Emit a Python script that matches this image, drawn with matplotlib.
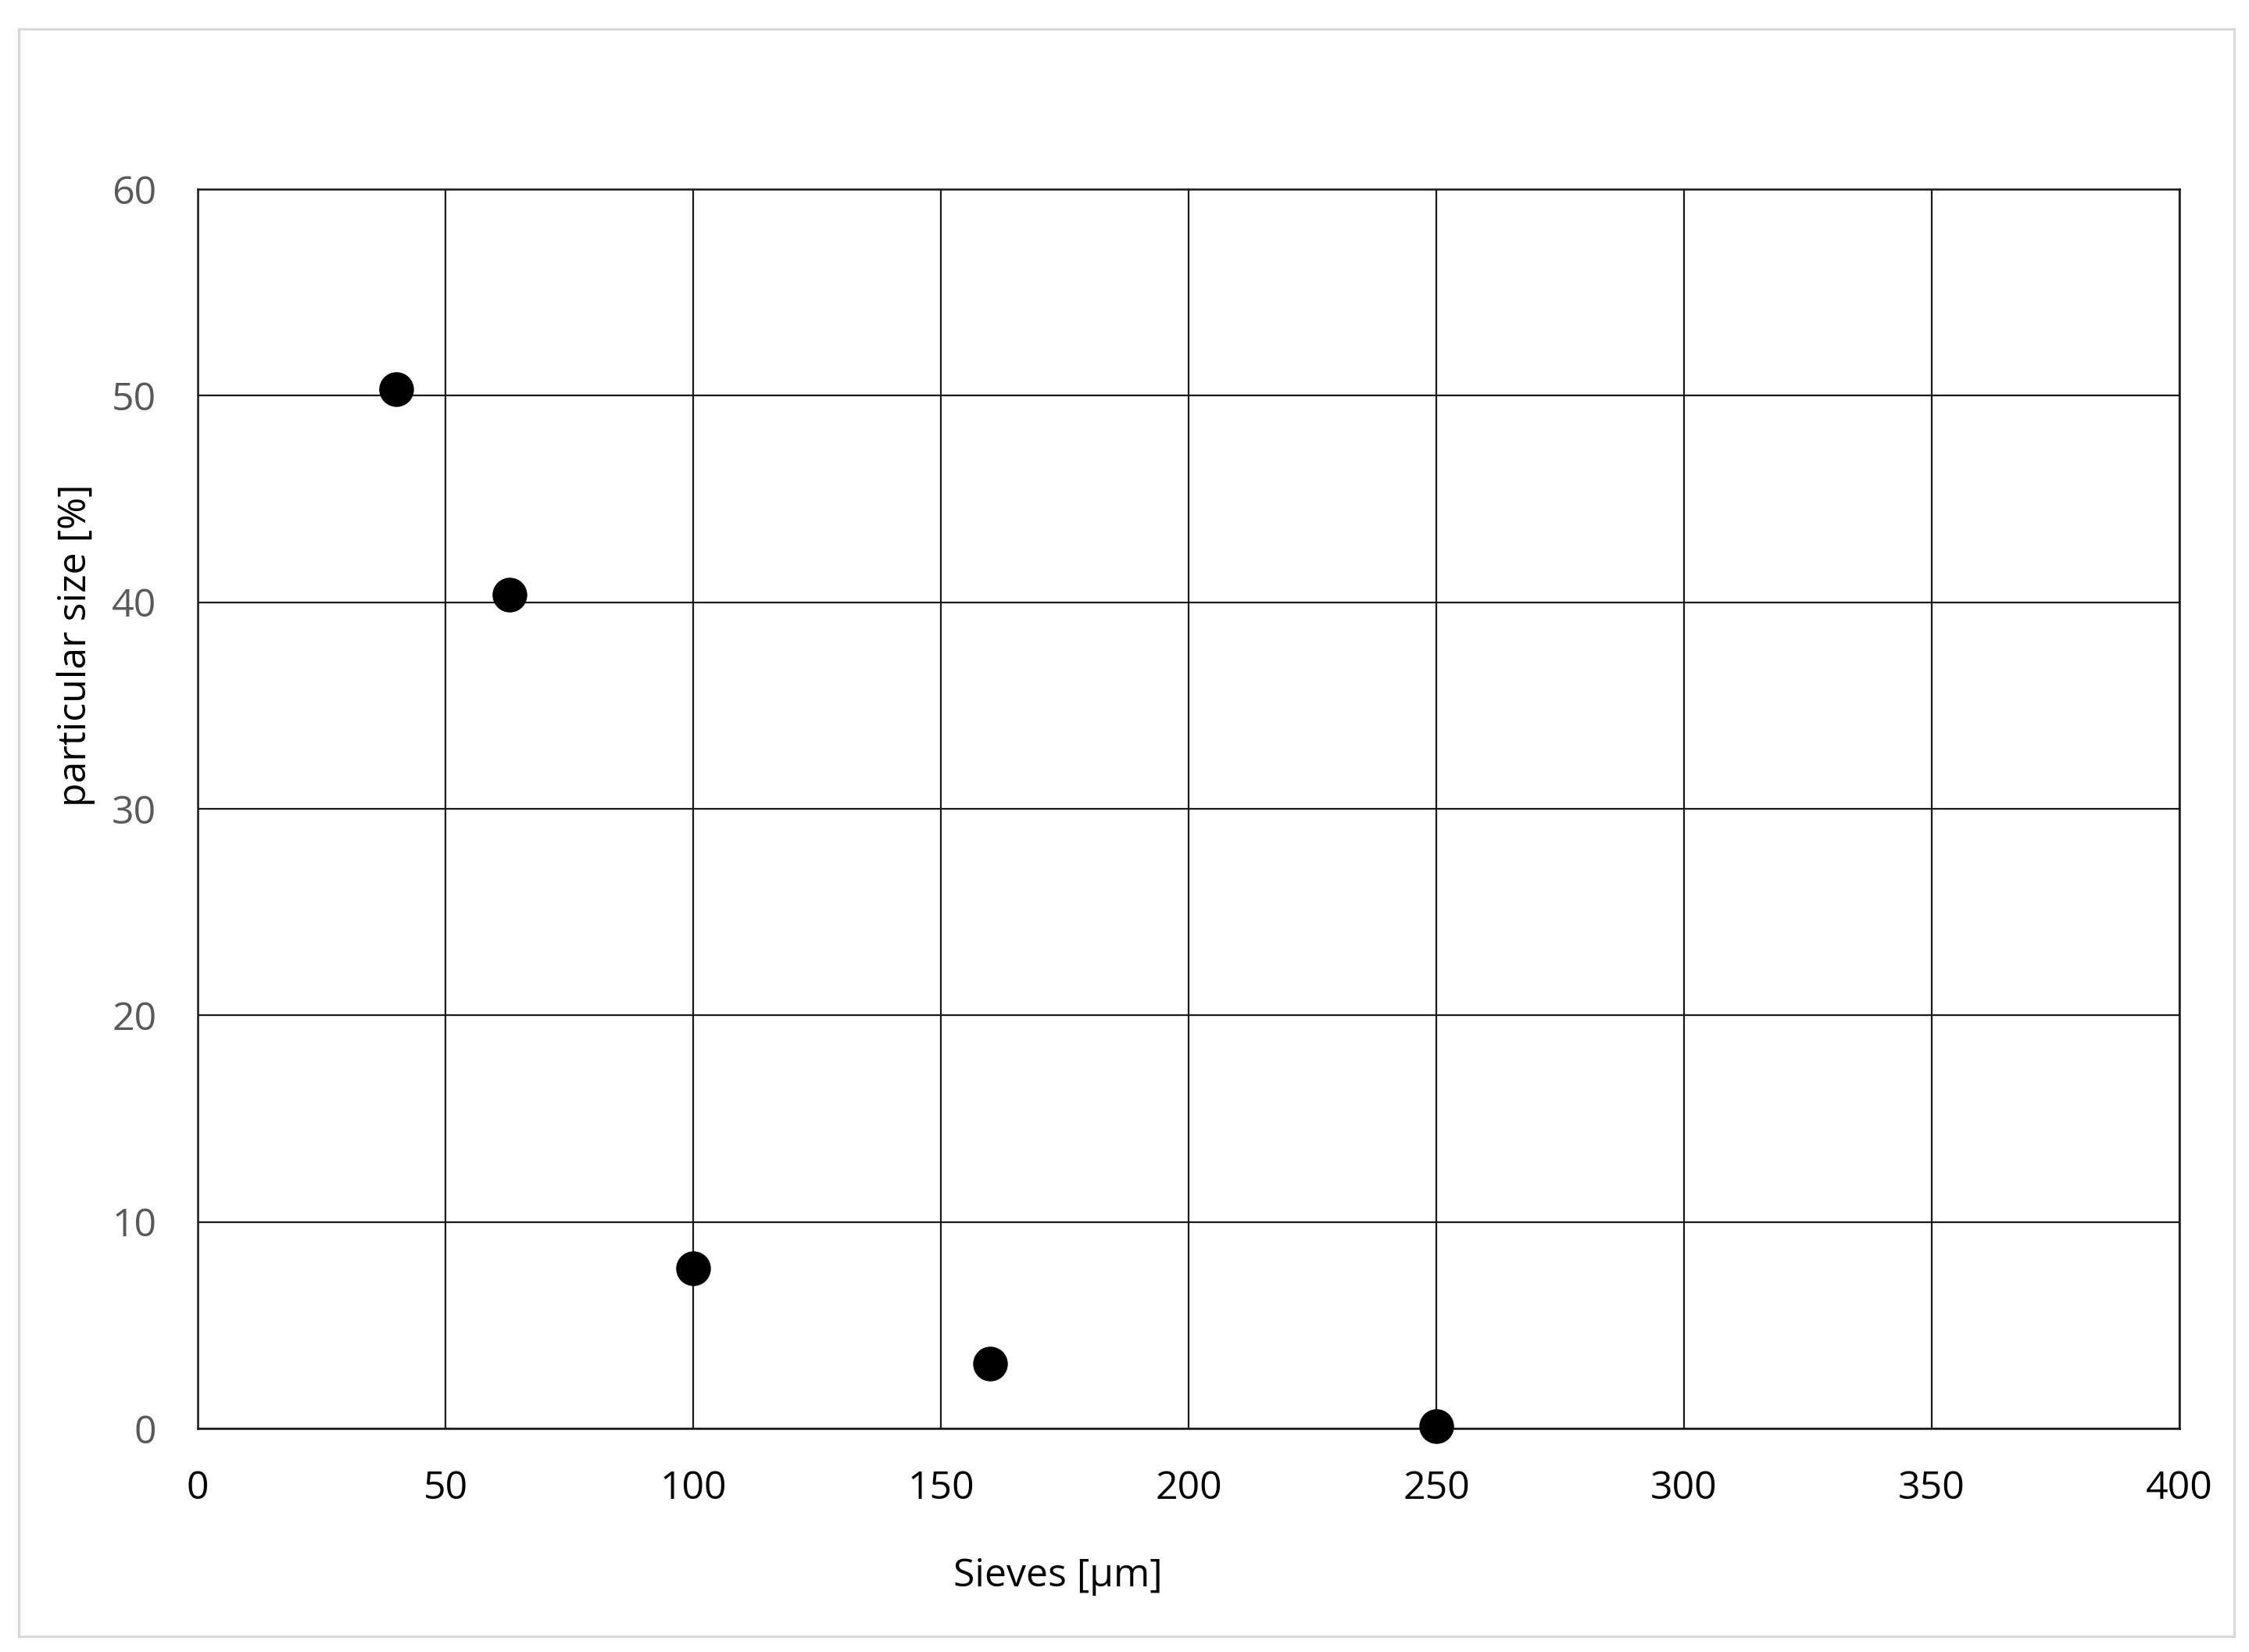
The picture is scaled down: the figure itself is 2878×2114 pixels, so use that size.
import matplotlib.pyplot as plt
from matplotlib.patches import Rectangle

# sieve sizes [um] and share of particles [%]
sieves = [40, 63, 100, 160, 250]
share = [50.3, 40.35, 7.75, 3.15, 0.12]

x_ticks = [0, 50, 100, 150, 200, 250, 300, 350, 400]
y_ticks = [0, 10, 20, 30, 40, 50, 60]

plt.rcParams['font.family'] = ['Open Sans', 'DejaVu Sans']

fig = plt.figure(figsize=(14.39, 10.57), dpi=200)
ax = fig.add_axes([0.0879, 0.1353, 0.9691 - 0.0879, 0.8855 - 0.1353])

# light frame around the whole chart, like an Excel chart area
fig.patches.append(Rectangle((24 / 2878, 1 - 2094 / 2114), (2859 - 24) / 2878,
                             (2094 - 37) / 2114, transform=fig.transFigure,
                             fill=False, edgecolor='#d9d9d9', linewidth=1.2))

ax.plot(sieves, share, 'o', color='black', markersize=15, zorder=3, clip_on=False)

ax.set_xlim(0, 400)
ax.set_ylim(0, 60)
ax.set_xticks(x_ticks)
ax.set_yticks(y_ticks)
ax.grid(True, color='#1a1a1a', linewidth=0.8)
ax.set_axisbelow(True)
for s in ax.spines.values():
    s.set_color('#1a1a1a')
    s.set_linewidth(0.9)

ax.tick_params(axis='both', length=0, labelsize=18)
ax.tick_params(axis='x', pad=19, labelcolor='black')
ax.tick_params(axis='y', pad=19, labelcolor='#595959')

fig.text(1354 / 2878, 1 - 2017 / 2114, 'Sieves [µm]', ha='center', va='center',
         fontsize=18, color='black')
fig.text(97 / 2878, 1 - 826 / 2114, 'particular size [%]', ha='center', va='center',
         rotation=90, fontsize=18, color='black')

plt.savefig('out.png', dpi=200)
